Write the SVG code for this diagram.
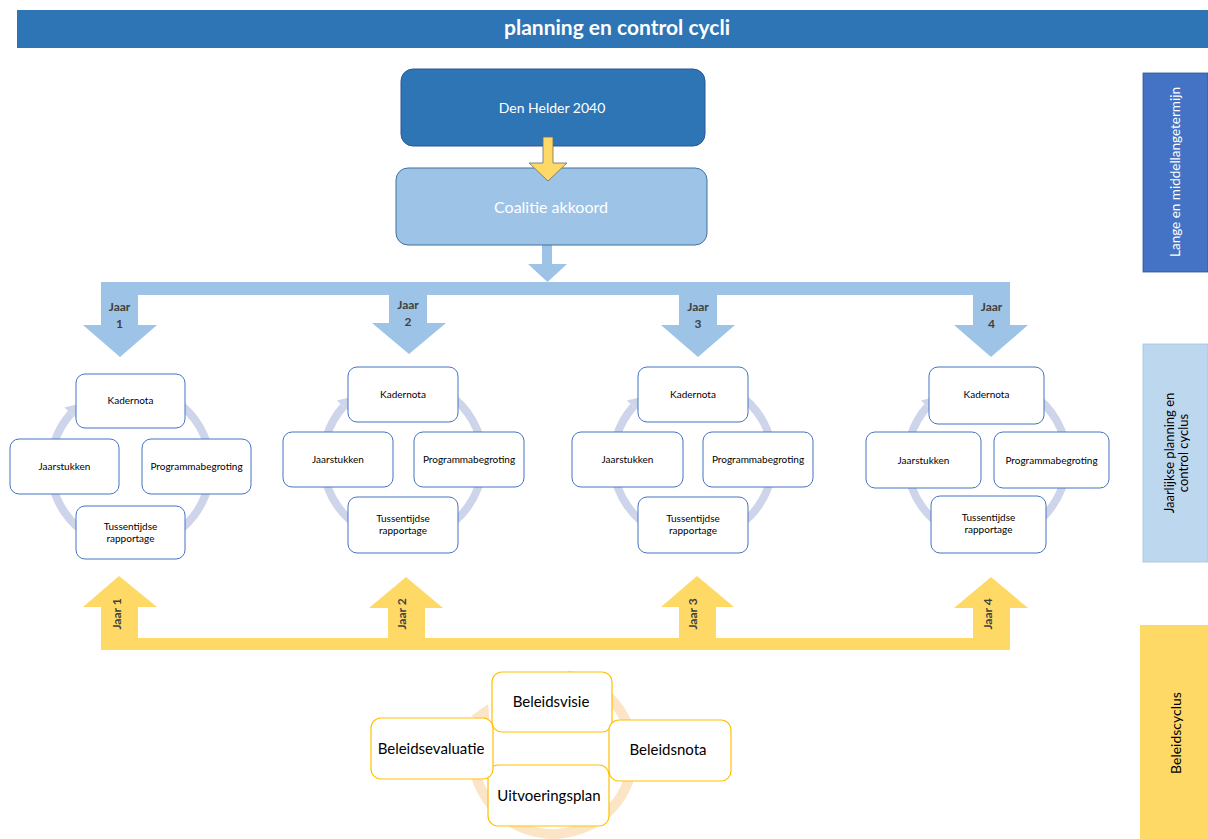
<svg xmlns="http://www.w3.org/2000/svg" xmlns:xlink="http://www.w3.org/1999/xlink" width="1208" height="839" viewBox="0 0 1208 839">
<style>
text{font-family:Lato,"Liberation Sans",sans-serif;text-anchor:middle}
.box{fill:#fff;stroke:#4472C4;stroke-width:1}
.ybox{fill:#fff;stroke:#FFC000;stroke-width:1.2}
.t10{font-size:10px;fill:#000}
.t14{font-size:15px;fill:#000}
.jaar{font-size:12px;font-weight:bold;fill:#404040}
.blue{fill:#9DC3E6}
.yel{fill:#FFD966}
</style>
<defs>
<g id="ringB">
<path d="M13.9,-78.8 A80,80 0 1 1 -59.5,-53.5" fill="none" stroke="#CED5EA" stroke-width="8"/>
<polygon points="-66.2,-59.5 -52.8,-47.5 -50.8,-63.2" fill="#CED5EA"/>
</g>
</defs>
<rect id="header" x="17" y="10" width="1191" height="38" fill="#2E75B6"/>
<text x="617" y="34.5" style="font-size:21px;font-weight:bold;fill:#fff">planning en control cycli</text>

<g id="connectors">
<rect x="101" y="282" width="909" height="13" class="blue"/>
<polygon class="blue" points="542,245 552,245 552,264 567,264 547.5,282 528,264 542,264"/>
<polygon class="blue" points="101,295 138,295 138,325 157,325 120,357 83,325 101,325"/>
<polygon class="blue" points="389,295 427,295 427,323 446,323 409,354 372,323 389,323"/>
<polygon class="blue" points="679,295 717,295 717,325 735,325 698,357 661,325 679,325"/>
<polygon class="blue" points="973,295 1010,295 1010,325 1028,325 991,357 954,325 973,325"/>
<rect x="101" y="638" width="909" height="12" class="yel"/>
<polygon class="yel" points="101,638 101,607 83,607 119,576 157,607 138,607 138,638"/>
<polygon class="yel" points="388,638 388,608 369,608 406,577 443,608 425,608 425,638"/>
<polygon class="yel" points="679,638 679,607 661,607 697,576 734,607 716,607 716,638"/>
<polygon class="yel" points="973,638 973,608 954,608 991,577 1028,608 1010,608 1010,638"/>
<use xlink:href="#ringB" x="130.5" y="467"/>
<use xlink:href="#ringB" x="403" y="460"/>
<use xlink:href="#ringB" x="693" y="460"/>
<use xlink:href="#ringB" x="987" y="460"/>
<g transform="translate(553,754)">
<path d="M13.9,-78.8 A80,80 0 1 1 -72.5,-33.8" fill="none" stroke="#FCE4C6" stroke-width="10"/>
<polygon points="-81.6,-38 -63.4,-29.6 -64.9,-50.1" fill="#FCE4C6"/>
</g>
</g>

<g id="jaar-labels-top">
<text class="jaar" x="119.5" y="311">Jaar</text><text class="jaar" x="119.5" y="328">1</text>
<text class="jaar" x="408" y="309">Jaar</text><text class="jaar" x="408" y="326">2</text>
<text class="jaar" x="698" y="311">Jaar</text><text class="jaar" x="698" y="328">3</text>
<text class="jaar" x="991.5" y="311">Jaar</text><text class="jaar" x="991.5" y="328">4</text>
</g>
<g id="jaar-labels-bottom">
<text class="jaar" transform="translate(121,614) rotate(-90)">Jaar 1</text>
<text class="jaar" transform="translate(406,614) rotate(-90)">Jaar 2</text>
<text class="jaar" transform="translate(697,614) rotate(-90)">Jaar 3</text>
<text class="jaar" transform="translate(992,614) rotate(-90)">Jaar 4</text>
</g>

<g id="den-helder">
<rect x="401" y="69" width="304" height="77" rx="12" fill="#2E75B6" stroke="#2F5597"/>
<text x="552" y="113" style="font-size:14px;fill:#fff">Den Helder 2040</text>
</g>
<g id="coalitie">
<rect x="396" y="168" width="311" height="77" rx="12" fill="#9DC3E6" stroke="#41719C"/>
<text x="551" y="212.5" style="font-size:16px;fill:#fff">Coalitie akkoord</text>
</g>
<polygon id="arrow-dh" points="543,137 553,137 553,163 567,163 548,181 529,163 543,163" fill="#FFD966" stroke="#6B6B6B" stroke-width="0.8"/>

<g id="c1-kadernota"><rect class="box" x="76" y="374" width="109" height="54" rx="9"/><text class="t10" x="130.5" y="404">Kadernota</text></g>
<g id="c1-jaarstukken"><rect class="box" x="10" y="439" width="109" height="55" rx="9"/><text class="t10" x="64.5" y="470">Jaarstukken</text></g>
<g id="c1-programmabegroting"><rect class="box" x="142" y="439" width="109" height="55" rx="9"/><text class="t10" x="196.5" y="470">Programmabegroting</text></g>
<g id="c1-tussentijdse"><rect class="box" x="76" y="506" width="109" height="53" rx="9"/><text class="t10" x="130.5" y="530">Tussentijdse</text><text class="t10" x="130.5" y="542">rapportage</text></g>

<g id="c2-kadernota"><rect class="box" x="348" y="367" width="110" height="55" rx="9"/><text class="t10" x="403" y="397.5">Kadernota</text></g>
<g id="c2-jaarstukken"><rect class="box" x="283" y="432" width="110" height="55" rx="9"/><text class="t10" x="338" y="463">Jaarstukken</text></g>
<g id="c2-programmabegroting"><rect class="box" x="414" y="432" width="110" height="55" rx="9"/><text class="t10" x="469" y="463">Programmabegroting</text></g>
<g id="c2-tussentijdse"><rect class="box" x="348" y="497" width="110" height="56" rx="9"/><text class="t10" x="403" y="521.5">Tussentijdse</text><text class="t10" x="403" y="533.5">rapportage</text></g>

<g id="c3-kadernota"><rect class="box" x="638" y="367" width="110" height="55" rx="9"/><text class="t10" x="693" y="397.5">Kadernota</text></g>
<g id="c3-jaarstukken"><rect class="box" x="572" y="432" width="111" height="55" rx="9"/><text class="t10" x="627.5" y="463">Jaarstukken</text></g>
<g id="c3-programmabegroting"><rect class="box" x="703" y="432" width="110" height="55" rx="9"/><text class="t10" x="758" y="463">Programmabegroting</text></g>
<g id="c3-tussentijdse"><rect class="box" x="638" y="497" width="110" height="56" rx="9"/><text class="t10" x="693" y="521.5">Tussentijdse</text><text class="t10" x="693" y="533.5">rapportage</text></g>

<g id="c4-kadernota"><rect class="box" x="929" y="367" width="115" height="57" rx="9"/><text class="t10" x="986.5" y="397.5">Kadernota</text></g>
<g id="c4-jaarstukken"><rect class="box" x="866" y="432" width="115" height="56" rx="9"/><text class="t10" x="923.5" y="463.5">Jaarstukken</text></g>
<g id="c4-programmabegroting"><rect class="box" x="994" y="432" width="115" height="56" rx="9"/><text class="t10" x="1051.5" y="463.5">Programmabegroting</text></g>
<g id="c4-tussentijdse"><rect class="box" x="931" y="496" width="115" height="57" rx="9"/><text class="t10" x="988.5" y="521">Tussentijdse</text><text class="t10" x="988.5" y="533">rapportage</text></g>

<g id="beleidsvisie"><rect class="ybox" x="492" y="672" width="120" height="60" rx="10"/><text class="t14" x="551" y="707">Beleidsvisie</text></g>
<g id="beleidsnota"><rect class="ybox" x="609" y="720" width="122" height="61" rx="10"/><text class="t14" x="668" y="754.5">Beleidsnota</text></g>
<g id="uitvoeringsplan"><rect class="ybox" x="488" y="765" width="121" height="61" rx="10"/><text class="t14" x="549" y="801">Uitvoeringsplan</text></g>
<g id="beleidsevaluatie"><rect class="ybox" x="371" y="718" width="122" height="61" rx="10"/><text class="t14" x="431" y="753.5">Beleidsevaluatie</text></g>

<g id="label-lange">
<rect x="1143" y="73" width="65" height="199" fill="#4472C4" stroke="#2F5597" stroke-width="0.8"/>
<text transform="translate(1180,172) rotate(-90)" style="font-size:13.5px;fill:#fff">Lange en middellangetermijn</text>
</g>
<g id="label-jaarlijkse">
<rect x="1143" y="344" width="65" height="218" fill="#BDD7EE" stroke="#9DC3E6" stroke-width="0.8"/>
<text transform="translate(1173.5,453) rotate(-90)" style="font-size:13px;fill:#000">Jaarlijkse planning en</text>
<text transform="translate(1188,453) rotate(-90)" style="font-size:13px;fill:#000">control cyclus</text>
</g>
<g id="label-beleidscyclus">
<rect x="1140" y="625" width="68" height="214" fill="#FFD966"/>
<text transform="translate(1180.5,733) rotate(-90)" style="font-size:14px;fill:#000">Beleidscyclus</text>
</g>
</svg>
